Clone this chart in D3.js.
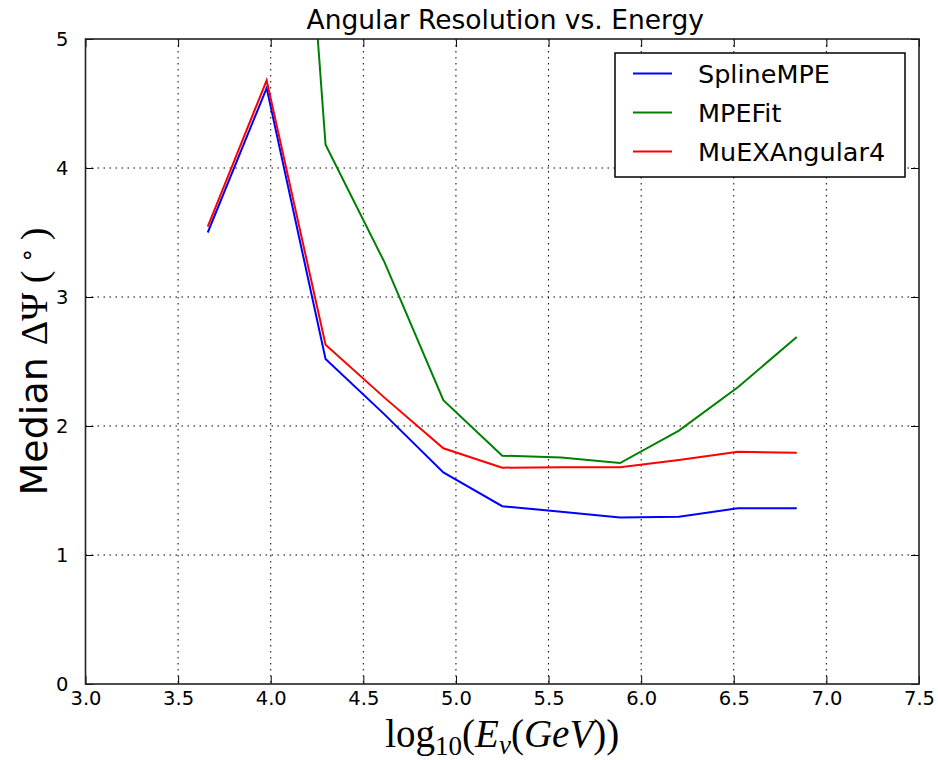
<!DOCTYPE html>
<html>
<head>
<meta charset="utf-8">
<script src="https://cdn.jsdelivr.net/npm/d3@7"></script>
<style>
  html, body { margin: 0; padding: 0; background: #fff; }
  svg { display: block; }
  text { font-family: "DejaVu Sans", sans-serif; fill: #000; }
  .math { font-family: "Liberation Serif", "DejaVu Serif", serif; }
</style>
</head>
<body>
<svg id="chart" width="938" height="760"></svg>
<script>
// log10 of neutrino energy (bin centres)
const energy = [3.66, 3.978, 4.296, 4.614, 4.932, 5.25, 5.568, 5.886, 6.204, 6.522, 6.84];
// median angular error in degrees per reconstruction
const splineMPE = [3.50, 4.62, 2.52, 2.09, 1.64, 1.378, 1.336, 1.29, 1.297, 1.362, 1.362];
const mpeFit    = [null, 10.4, 4.18, 3.27, 2.20, 1.77, 1.755, 1.713, 1.964, 2.30, 2.69];
const muEX      = [3.545, 4.68, 2.63, 2.22, 1.827, 1.677, 1.68, 1.68, 1.736, 1.80, 1.793];

const seriesNames = ["SplineMPE", "MPEFit", "MuEXAngular4"];
const seriesValues = [splineMPE, mpeFit, muEX];
const seriesColors = ["#0000ff", "#008000", "#ff0000"];

const xTicks = [3.0, 3.5, 4.0, 4.5, 5.0, 5.5, 6.0, 6.5, 7.0, 7.5];
const yTicks = [0, 1, 2, 3, 4, 5];

const margin = { left: 85.5, right: 919, top: 39, bottom: 684 };
const svg = d3.select("#chart");

const x = d3.scaleLinear().domain([3.0, 7.5]).range([margin.left, margin.right]);
const y = d3.scaleLinear().domain([0, 5]).range([margin.bottom, margin.top]);

// clip region for the data lines
svg.append("defs").append("clipPath").attr("id", "plotClip")
  .append("rect")
  .attr("x", margin.left).attr("y", margin.top)
  .attr("width", margin.right - margin.left)
  .attr("height", margin.bottom - margin.top);

// dotted grid
const grid = svg.append("g").attr("stroke", "#000").attr("stroke-width", 1)
  .attr("stroke-dasharray", "1.5,4.5").attr("fill", "none");
grid.selectAll("line.vx").data(xTicks.slice(1, -1)).join("line")
  .attr("x1", d => x(d)).attr("x2", d => x(d))
  .attr("y1", margin.top).attr("y2", margin.bottom);
grid.selectAll("line.hy").data(yTicks.slice(1, -1)).join("line")
  .attr("class", "hy")
  .attr("x1", margin.left).attr("x2", margin.right)
  .attr("y1", d => y(d)).attr("y2", d => y(d));

// data lines
const line = d3.line()
  .defined(d => d[1] !== null)
  .x(d => x(d[0])).y(d => y(d[1]));

const lines = svg.append("g").attr("clip-path", "url(#plotClip)");
seriesValues.forEach((vals, i) => {
  lines.append("path")
    .datum(energy.map((e, j) => [e, vals[j]]))
    .attr("d", line)
    .attr("fill", "none")
    .attr("stroke", seriesColors[i])
    .attr("stroke-width", 2)
    .attr("stroke-linejoin", "miter");
});

// axes with inward ticks on all four sides
const tickLen = 8;
const bottomAxis = d3.axisBottom(x).tickValues(xTicks).tickFormat(d3.format(".1f"))
  .tickSizeInner(-tickLen).tickSizeOuter(0).tickPadding(14);
const topAxis = d3.axisTop(x).tickValues(xTicks).tickFormat("")
  .tickSizeInner(-tickLen).tickSizeOuter(0);
const leftAxis = d3.axisLeft(y).tickValues(yTicks).tickFormat(d3.format("d"))
  .tickSizeInner(-tickLen).tickSizeOuter(0).tickPadding(17);
const rightAxis = d3.axisRight(y).tickValues(yTicks).tickFormat("")
  .tickSizeInner(-tickLen).tickSizeOuter(0);

function styleAxis(g) {
  g.select(".domain").remove();
  g.selectAll(".tick line").attr("stroke", "#000").attr("stroke-width", 1);
  g.selectAll(".tick text").attr("font-family", "DejaVu Sans, sans-serif")
    .attr("font-size", 19.5).attr("fill", "#000");
}

svg.append("g").attr("transform", `translate(0,${margin.bottom})`).call(bottomAxis).call(styleAxis)
  .selectAll(".tick text").attr("dy", "0.35em");
svg.append("g").attr("transform", `translate(0,${margin.top})`).call(topAxis).call(styleAxis);
svg.append("g").attr("transform", `translate(${margin.left},0)`).call(leftAxis).call(styleAxis);
svg.append("g").attr("transform", `translate(${margin.right},0)`).call(rightAxis).call(styleAxis);

// frame
svg.append("rect")
  .attr("x", margin.left).attr("y", margin.top)
  .attr("width", margin.right - margin.left)
  .attr("height", margin.bottom - margin.top)
  .attr("fill", "none").attr("stroke", "#222").attr("stroke-width", 1.6);

// title
svg.append("text")
  .attr("x", (margin.left + margin.right) / 2 + 3).attr("y", 29)
  .attr("text-anchor", "middle").attr("font-size", 26.5)
  .text("Angular Resolution vs. Energy");

// x label: log10(E_nu(GeV))
const xl = svg.append("text").attr("class", "math")
  .attr("x", (margin.left + margin.right) / 2).attr("y", 747)
  .attr("text-anchor", "middle").attr("font-size", 39);
xl.append("tspan").text("log");
xl.append("tspan").attr("font-size", 27).attr("dy", 8).text("10");
xl.append("tspan").attr("dy", -8).text("(");
xl.append("tspan").attr("font-style", "italic").text("E");
xl.append("tspan").attr("font-style", "italic").attr("font-size", 27).attr("dy", 7).text("ν");
xl.append("tspan").attr("dy", -7).text("(");
xl.append("tspan").attr("font-style", "italic").text("GeV");
xl.append("tspan").text("))");

// y label: Median ΔΨ (°)
const yl = svg.append("text")
  .attr("transform", `translate(47,${(margin.top + margin.bottom) / 2}) rotate(-90)`)
  .attr("text-anchor", "middle").attr("font-size", 38);
yl.append("tspan").text("Median ");
yl.append("tspan").attr("font-family", "Liberation Serif, DejaVu Serif, serif").text("ΔΨ (");
yl.append("tspan").attr("font-family", "DejaVu Sans, sans-serif").attr("font-size", 24).attr("dy", -12).text(" ∘ ");
yl.append("tspan").attr("font-family", "Liberation Serif, DejaVu Serif, serif").attr("dy", 12).text(")");

// legend
const legend = svg.append("g");
legend.append("rect")
  .attr("x", 615).attr("y", 53).attr("width", 290).attr("height", 124)
  .attr("fill", "#fff").attr("stroke", "#000").attr("stroke-width", 1.5);
const rowY = [73.5, 112.5, 151.5];
seriesNames.forEach((name, i) => {
  legend.append("line")
    .attr("x1", 633).attr("x2", 672).attr("y1", rowY[i]).attr("y2", rowY[i])
    .attr("stroke", seriesColors[i]).attr("stroke-width", 2);
  legend.append("text")
    .attr("x", 698).attr("y", rowY[i]).attr("dy", "0.36em")
    .attr("font-size", 25.5).text(name);
});
</script>
</body>
</html>
